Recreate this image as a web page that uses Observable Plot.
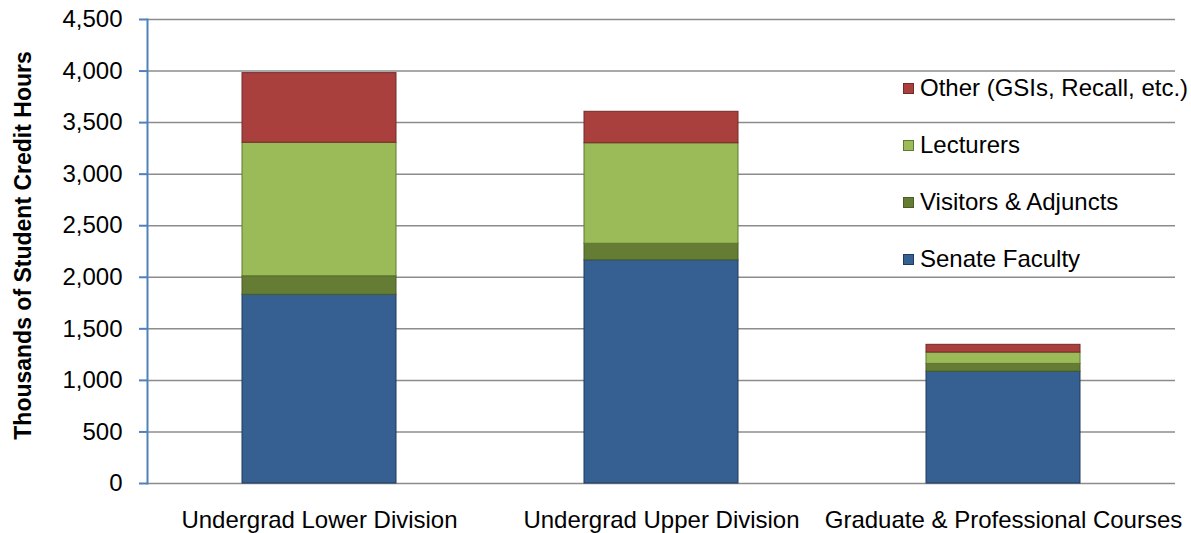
<!DOCTYPE html>
<html>
<head>
<meta charset="utf-8">
<script src="https://cdn.jsdelivr.net/npm/d3@7"></script>
<script src="https://cdn.jsdelivr.net/npm/@observablehq/plot@0.6"></script>
<style>
  body { margin: 0; background: #fff; font-family: "Liberation Sans", Arial, sans-serif; }
  #chart { position: relative; width: 1191px; height: 533px; overflow: hidden; }
  #chart svg { position: absolute; left: 0; top: 0; }
  .legend-item { position: absolute; display: flex; align-items: center; white-space: nowrap;
                 font-size: 24px; line-height: 26px; color: #000; }
  .legend-swatch { width: 9px; height: 9px; border: 1px solid; margin-right: 6px; flex: none; }
</style>
</head>
<body>
<div id="chart"></div>
<script>
// Student credit hours (thousands) by course level and instructor type
const categories = ["Undergrad Lower Division", "Undergrad Upper Division", "Graduate & Professional Courses"];
const seriesNames = ["Senate Faculty", "Visitors & Adjuncts", "Lecturers", "Other (GSIs, Recall, etc.)"];
const senateFaculty    = [1830, 2165, 1085];
const visitorsAdjuncts = [180, 160, 75];
const lecturers        = [1295, 975, 110];
const other            = [675, 305, 75];
const yTicks = [0, 500, 1000, 1500, 2000, 2500, 3000, 3500, 4000, 4500];

const seriesValues = [senateFaculty, visitorsAdjuncts, lecturers, other];
const fills   = ["#376092", "#647C34", "#9BBB59", "#AA403E"];
const strokes = ["#1F3A5F", "#4A5D25", "#5E7A2F", "#722B29"];

// long table: one row per stacked segment, bottom segment first
const rows = categories.flatMap((category, i) =>
  seriesNames.map((series, j) => ({
    category, series, value: seriesValues[j][i], fill: fills[j], stroke: strokes[j]
  }))
);

const chart = Plot.plot({
  width: 1191,
  height: 533,
  marginLeft: 147,
  marginRight: 16,
  marginTop: 19,
  marginBottom: 50,
  style: { fontFamily: "'Liberation Sans', Arial, sans-serif", background: "white", overflow: "visible" },
  x: { domain: categories, paddingInner: 0.55, paddingOuter: 0.275, label: null },
  y: { domain: [0, 4500], label: null },
  color: { type: "identity" },
  marks: [
    Plot.ruleY(yTicks, { stroke: "#8C8C8C", strokeWidth: 1.5 }),
    Plot.barY(rows, Plot.stackY({
      x: "category", y: "value", fill: "fill", stroke: "stroke", strokeWidth: 1
    })),
    Plot.axisX({ tickSize: 0, tickPadding: 27, fontSize: 24, fill: "black", label: null }),
    Plot.axisY({
      ticks: yTicks, tickFormat: d3.format(","), tickSize: 8, tickPadding: 17,
      stroke: "#4F81BD", strokeWidth: 2, fill: "black", fontSize: 24, label: null
    }),
    // vertical axis line along the left edge of the plot area
    Plot.frame({ anchor: "left", stroke: "#4F81BD", strokeWidth: 2 }),
    Plot.text(["Thousands of Student Credit Hours"], {
      frameAnchor: "left", textAnchor: "middle", rotate: -90, dx: -124, dy: -6,
      fontWeight: "bold", fontSize: 23, fill: "black"
    })
  ]
});

const container = document.getElementById("chart");
container.appendChild(chart);

// legend, top entry is the top of the stack
const legendCenters = [259, 202, 145, 88];
seriesNames.forEach((name, j) => {
  const item = document.createElement("div");
  item.className = "legend-item";
  item.style.left = "903px";
  item.style.top = (legendCenters[j] - 13) + "px";
  const sw = document.createElement("span");
  sw.className = "legend-swatch";
  sw.style.background = fills[j];
  sw.style.borderColor = strokes[j];
  const label = document.createElement("span");
  label.textContent = name;
  item.appendChild(sw);
  item.appendChild(label);
  container.appendChild(item);
});
</script>
</body>
</html>
